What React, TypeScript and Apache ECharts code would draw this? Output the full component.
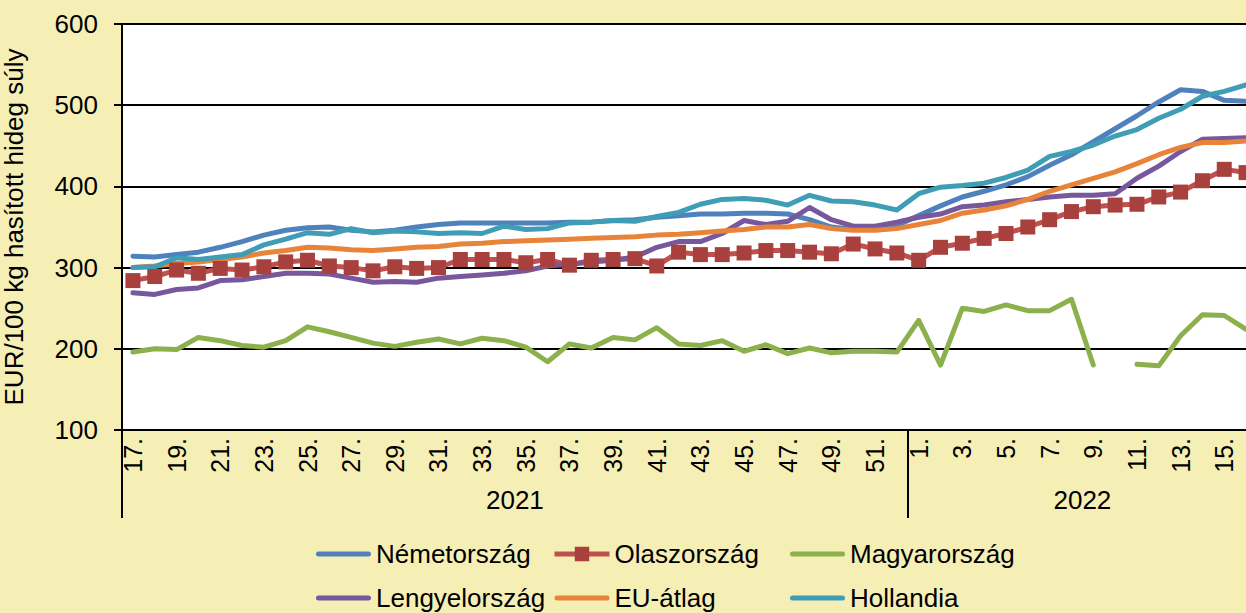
import React, { useEffect, useRef } from "react";
import * as echarts from "echarts";

const weeks2021 = ["17.","18.","19.","20.","21.","22.","23.","24.","25.","26.","27.","28.","29.","30.","31.","32.","33.","34.","35.","36.","37.","38.","39.","40.","41.","42.","43.","44.","45.","46.","47.","48.","49.","50.","51.","52."];
const weeks2022 = ["1.","2.","3.","4.","5.","6.","7.","8.","9.","10.","11.","12.","13.","14.","15.","16."];
const categories = [...weeks2021, ...weeks2022];
const years = ["2021", "2022"];

const nemetorszag = [314,313,316,319,325,332,340,346,349,350,346,344,346,350,353,355,355,355,355,355,356,356,358,359,362,364,366,366,367,367,366,359,350,347,347,352,364,376,387,394,402,412,426,439,455,471,487,504,519,517,506,505];
const olaszorszag = [284,289,297,293,299,297,301,307,309,302,300,296,301,299,300,310,310,310,306,310,303,309,310,311,302,319,316,316,318,321,321,319,317,329,323,318,309,325,330,336,342,350,359,369,375,377,378,387,393,407,421,417];
const magyarorszag = [196,200,199,214,210,204,202,210,227,221,214,207,203,208,212,206,213,210,202,184,206,201,214,211,226,206,204,210,197,205,194,201,195,197,197,196,235,180,250,246,254,247,247,261,180,null,181,179,216,242,241,224];
const lengyelorszag = [269,267,273,275,284,285,289,293,293,292,287,282,283,282,287,289,291,293,296,302,304,307,309,313,325,332,332,342,358,353,357,374,359,351,351,356,362,366,375,377,381,384,387,389,389,391,410,425,443,458,459,460];
const euAtlag = [300,302,305,307,310,313,318,321,325,324,322,321,323,325,326,329,330,332,333,334,335,336,337,338,340,341,343,345,347,350,350,353,348,346,346,348,353,358,367,371,376,384,394,402,410,418,428,439,448,454,454,456];
const hollandia = [300,301,312,310,313,316,328,335,343,341,348,343,345,344,342,343,342,351,347,348,355,356,358,357,363,368,378,384,385,383,377,389,382,381,377,371,391,399,401,404,411,420,437,443,451,462,470,484,495,511,517,525];

const FONT = "'Liberation Sans', Arial, sans-serif";
const LINE_ICON = "path://M0,0M55,18M2.5,6.5L52.5,6.5A2.5,2.5,0,0,1,52.5,11.5L2.5,11.5A2.5,2.5,0,0,1,2.5,6.5Z";

export default function App() {
  const ref = useRef<HTMLDivElement>(null);
  useEffect(() => {
    if (!ref.current) return;
    const chart = echarts.init(ref.current, undefined, { renderer: "svg" });
    const lineSeries = (name: string, data: (number | null)[], color: string) => ({
      name,
      type: "line",
      data,
      symbol: "none",
      lineStyle: { color, width: 5, cap: "round", join: "round" },
      itemStyle: { color },
    });
    const legendBase = {
      orient: "vertical",
      top: 541,
      height: 90,
      padding: 0,
      itemWidth: 55,
      itemHeight: 18,
      itemGap: 18,
      lineStyle: { width: 5 },
      textStyle: { fontSize: 26, color: "#000", fontFamily: FONT, lineHeight: 24 },
    };
    chart.setOption({
      animation: false,
      backgroundColor: "#F5EEB5",
      textStyle: { fontFamily: FONT },
      grid: {
        left: 122, top: 24, right: 5, height: 406,
        backgroundColor: "#fff", show: true, borderWidth: 0,
        outerBoundsMode: "none",
      },
      legend: [
        { ...legendBase, left: 316, data: [{ name: "Németország", icon: LINE_ICON }, { name: "Lengyelország", icon: LINE_ICON }] },
        { ...legendBase, left: 552, data: [{ name: "Olaszország" }, { name: "EU-átlag", icon: LINE_ICON }] },
        { ...legendBase, left: 790, data: [{ name: "Magyarország", icon: LINE_ICON }, { name: "Hollandia", icon: LINE_ICON }] },
      ],
      xAxis: [
        {
          type: "category",
          data: categories,
          boundaryGap: true,
          axisLine: { lineStyle: { color: "#000", width: 2 } },
          axisTick: { show: false },
          axisLabel: { interval: 1, rotate: 90, fontSize: 25, color: "#000", margin: 8, fontFamily: FONT },
        },
        {
          type: "value",
          min: 0,
          max: categories.length,
          position: "bottom",
          axisLine: { show: false },
          splitLine: { show: false },
          axisTick: { show: true, customValues: [0, weeks2021.length], length: 88, lineStyle: { color: "#000", width: 2 } },
          axisLabel: {
            customValues: [weeks2021.length / 2, weeks2021.length + weeks2022.length / 2],
            formatter: (v: number) => (v < weeks2021.length ? years[0] : years[1]),
            fontSize: 26,
            color: "#000",
            margin: 57,
            fontFamily: FONT,
          },
        },
      ],
      yAxis: {
        type: "value",
        min: 100,
        max: 600,
        interval: 100,
        name: "EUR/100 kg hasított hideg súly",
        nameLocation: "middle",
        nameGap: 95,
        nameTextStyle: { fontSize: 26, color: "#000", fontFamily: FONT },
        axisLine: { show: true, lineStyle: { color: "#000", width: 2 } },
        axisTick: { show: true, length: 8, lineStyle: { color: "#000", width: 2 } },
        axisLabel: { fontSize: 26, color: "#000", margin: 24, fontFamily: FONT },
        splitLine: { lineStyle: { color: "#000", width: 2 } },
      },
      series: [
        lineSeries("Németország", nemetorszag, "#4F81BD"),
        {
          name: "Olaszország",
          type: "line",
          data: olaszorszag,
          symbol: "rect",
          symbolSize: 15,
          showAllSymbol: true,
          lineStyle: { color: "#C0504D", width: 5, join: "round" },
          itemStyle: { color: "#A8403D", borderWidth: 0 },
        },
        lineSeries("Magyarország", magyarorszag, "#8CB04C"),
        lineSeries("Lengyelország", lengyelorszag, "#77589C"),
        lineSeries("EU-átlag", euAtlag, "#E8843A"),
        lineSeries("Hollandia", hollandia, "#3F9DB5"),
      ],
    });
    return () => chart.dispose();
  }, []);
  return (
    <div style={{ position: "fixed", left: 0, top: 0, width: 1246, height: 613, overflow: "hidden", background: "#F5EEB5" }}>
      <div ref={ref} style={{ width: 1262, height: 613 }} />
    </div>
  );
}
